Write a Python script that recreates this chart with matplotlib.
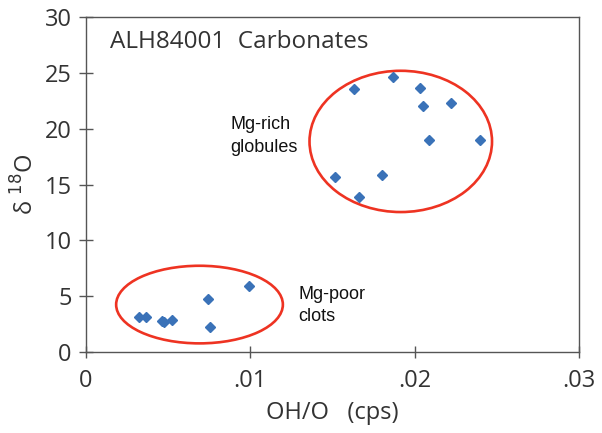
import matplotlib
matplotlib.use("Agg")
import matplotlib.pyplot as plt
from matplotlib.patches import Ellipse

# Data
poor_x = [0.00323, 0.00365, 0.00466, 0.00478, 0.00523, 0.00744, 0.00755, 0.00990]
poor_y = [3.16, 3.16, 2.80, 2.71, 2.86, 4.77, 2.27, 5.94]
rich_x = [0.0187, 0.01633, 0.02035, 0.02049, 0.02222, 0.02085, 0.0240, 0.01513, 0.01803, 0.01665]
rich_y = [24.62, 23.57, 23.66, 22.02, 22.26, 18.98, 18.98, 15.70, 15.82, 13.90]
xticks = [0, 0.01, 0.02, 0.03]
xticklabels = ["0", ".01", ".02", ".03"]
yticks = [0, 5, 10, 15, 20, 25, 30]

# Ellipses: (center x, center y, width, height)
rich_ell = (0.01916, 18.86, 0.0111, 12.65)
poor_ell = (0.00692, 4.25, 0.01014, 6.95)

plt.rcParams['font.family'] = ['Open Sans', 'DejaVu Sans']

fig = plt.figure(figsize=(6.02, 4.33), dpi=100)
ax = fig.add_axes([0.1424, 0.187, 0.8194, 0.7737])

blue = '#3a72b8'
ax.plot(poor_x, poor_y, 'D', color=blue, ms=5.5, mec=blue, ls='none')
ax.plot(rich_x, rich_y, 'D', color=blue, ms=5.5, mec=blue, ls='none')

red = '#ee3322'
for cx, cy, w, h in (rich_ell, poor_ell):
    ax.add_patch(Ellipse((cx, cy), w, h, fill=False, ec=red, lw=1.9))

ax.set_xlim(0, 0.03)
ax.set_ylim(0, 30)
ax.set_xticks(xticks)
ax.set_xticklabels(xticklabels)
ax.set_yticks(yticks)

spine_c = '#555555'
for s in ax.spines.values():
    s.set_color(spine_c)
    s.set_linewidth(1.0)
ax.tick_params(axis='both', direction='inout', color=spine_c, labelsize=17,
               labelcolor='#333333', width=1.0)
ax.tick_params(axis='y', length=10, pad=5)
ax.tick_params(axis='x', length=8, pad=8)

ax.set_xlabel("OH/O   (cps)", fontsize=17, color='#333333', labelpad=6)
ax.set_ylabel("δ $^{18}$O", fontsize=17, color='#333333', labelpad=4)

ax.text(0.00148, 27.75, "ALH84001  Carbonates", fontsize=17.5, color='#333333',
        va='center', ha='left')
ax.text(0.0088, 19.35, "Mg-rich\nglobules", fontsize=13, color='#111111',
        va='center', ha='left', family=['Liberation Sans'], linespacing=1.4)
ax.text(0.01295, 4.2, "Mg-poor\nclots", fontsize=13, color='#111111',
        va='center', ha='left', family=['Liberation Sans'], linespacing=1.4)

fig.savefig("out.png", dpi=100)
